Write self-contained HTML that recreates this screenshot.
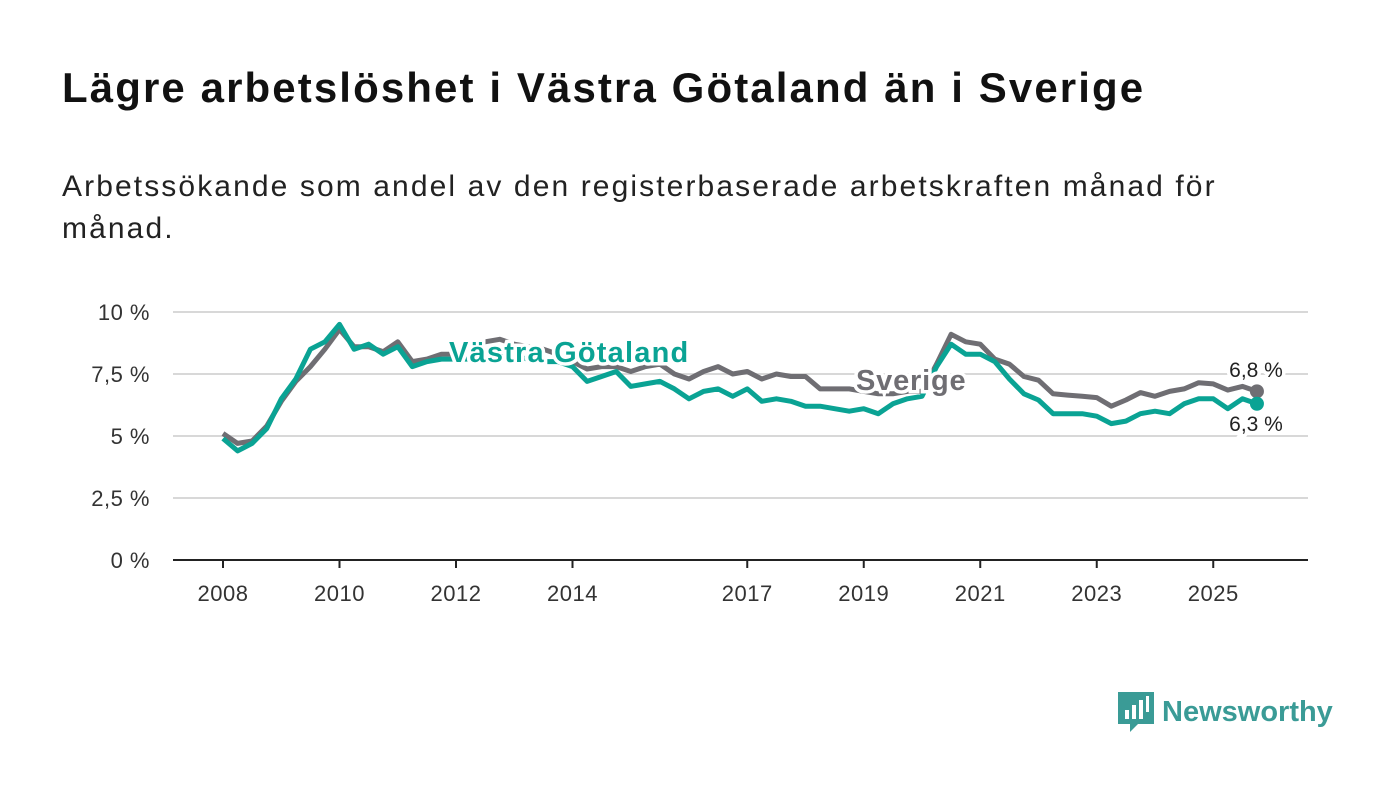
<!DOCTYPE html>
<html><head><meta charset="utf-8"><style>
body{margin:0;width:1400px;height:794px;background:#fff;font-family:"Liberation Sans","DejaVu Sans",sans-serif;overflow:hidden;position:relative}
h1{position:absolute;left:62px;top:64px;margin:0;font-size:42px;letter-spacing:2.1px;font-weight:bold;color:#111}
p.sub{position:absolute;left:62px;top:166px;margin:0;font-size:30px;letter-spacing:2.1px;line-height:42px;color:#222;width:1250px}
svg{position:absolute;left:0;top:0}
</style></head><body>
<h1>Lägre arbetslöshet i Västra Götaland än i Sverige</h1>
<p class="sub">Arbetssökande som andel av den registerbaserade arbetskraften månad för månad.</p>
<svg id="chart" width="1400" height="794"></svg>
<div style="position:absolute;left:1118px;top:690px;display:flex;align-items:center;gap:8px;color:#3a9b96;font-size:29px;font-weight:bold">
<svg width="36" height="44" style="position:static"><path d="M0 2h36v32H20l-8 8v-8H0z" fill="#3a9b96"/><rect x="7" y="20" width="4" height="9" fill="#fff"/><rect x="14" y="15" width="4" height="14" fill="#fff"/><rect x="21" y="10" width="4" height="19" fill="#fff"/><rect x="28" y="6" width="3" height="16" fill="#fff"/></svg>
<span>Newsworthy</span></div>
<script>
const dates=[];for(let y=2008;y<=2025;y++)for(let q=0;q<4;q++)dates.push(y+q*0.25);
const sverige=[5.1,4.7,4.8,5.4, 6.4,7.2,7.8,8.5, 9.3,8.6,8.6,8.4, 8.8,8.0,8.1,8.3, 8.3,8.5,8.8,8.9, 8.7,8.6,8.5,8.3, 8.0,7.7,7.8,7.8, 7.6,7.8,7.9,7.5, 7.3,7.6,7.8,7.5, 7.6,7.3,7.5,7.4, 7.4,6.9,6.9,6.9, 6.8,6.7,6.7,6.8, 6.8,7.9,9.1,8.8, 8.7,8.1,7.9,7.4, 7.25,6.7,6.65,6.6, 6.55,6.2,6.45,6.75, 6.6,6.8,6.9,7.15, 7.1,6.85,7.0,6.8];
const vastra=[4.9,4.4,4.7,5.3, 6.5,7.3,8.5,8.8, 9.5,8.5,8.7,8.3, 8.6,7.8,8.0,8.1, 8.1,8.1,8.3,8.2, 8.2,8.1,8.0,8.0, 7.8,7.2,7.4,7.6, 7.0,7.1,7.2,6.9, 6.5,6.8,6.9,6.6, 6.9,6.4,6.5,6.4, 6.2,6.2,6.1,6.0, 6.1,5.9,6.3,6.5, 6.6,7.8,8.7,8.3, 8.3,8.0,7.3,6.7, 6.45,5.9,5.9,5.9, 5.8,5.5,5.6,5.9, 6.0,5.9,6.3,6.5, 6.5,6.1,6.5,6.3];
const yTicks=[0,2.5,5,7.5,10];
const yLabels=["0 %","2,5 %","5 %","7,5 %","10 %"];
const xTicks=[2008,2010,2012,2014,2017,2019,2021,2023,2025];
const NS="http://www.w3.org/2000/svg",svg=document.getElementById('chart');
const X=d=>223+(d-2008)*58.25, Y=v=>560-v*24.8;
function mk(t,a,p){const e=document.createElementNS(NS,t);for(const k in a)e.setAttribute(k,a[k]);(p||svg).appendChild(e);return e;}
yTicks.forEach((v,i)=>{
 const l=mk('line',{x1:173,x2:1308,y1:Y(v),y2:Y(v),stroke:v===0?'#222':'#d8d8d8','stroke-width':2});
 
 const t=mk('text',{x:150,y:Y(v)+8,'text-anchor':'end','font-size':22,fill:'#333','letter-spacing':'0.5'});t.textContent=yLabels[i];
 
});
xTicks.forEach(d=>{
 const l=mk('line',{x1:X(d),x2:X(d),y1:560,y2:568,stroke:'#222','stroke-width':2});
 
 const t=mk('text',{x:X(d),y:601,'text-anchor':'middle','font-size':22,fill:'#333','letter-spacing':'0.5'});t.textContent=d;
 
});
function line(vals,col,name){
 const d=vals.map((v,i)=>(i?'L':'M')+X(dates[i]).toFixed(1)+' '+Y(v).toFixed(1)).join(' ');
 const p=mk('path',{d:d,fill:'none',stroke:col,'stroke-width':5,'stroke-linejoin':'round'});
 
 const n=vals.length-1;
 const c=mk('circle',{cx:X(dates[n]),cy:Y(vals[n]),r:7,fill:col});
 
}
line(sverige,'#6f6e73','sverige-line');
line(vastra,'#0aa394','vastra-gotaland-line');
function lab(x,y,txt,col,size,w,name,anchor,ls){
 const t=mk('text',{x:x,y:y,'font-size':size,'font-weight':w,fill:col,stroke:'#fff','stroke-width':7,'paint-order':'stroke','text-anchor':anchor||'start','letter-spacing':ls||0});
 t.textContent=txt;
}
lab(449,362,'Västra Götaland','#0aa394',29,'bold','vastra-gotaland-label','start',1.2);
lab(856,390,'Sverige','#6f6e73',29,'bold','sverige-label','start',0.8);
lab(1256,377,'6,8 %','#222',21,'normal','sverige-end-value','middle');
lab(1256,431,'6,3 %','#222',21,'normal','vastra-end-value','middle');
</script>
</body></html>
